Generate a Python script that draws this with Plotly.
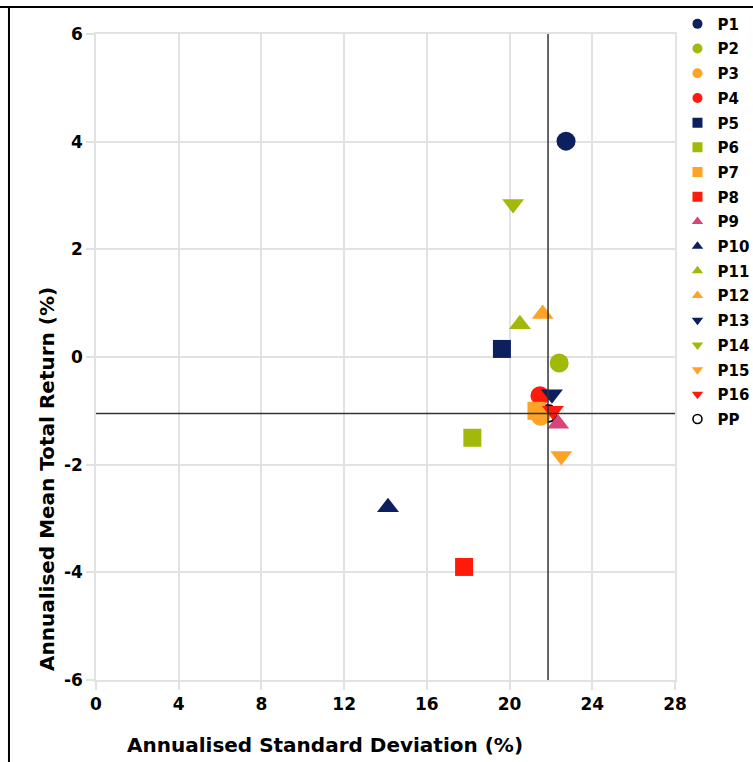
import plotly.graph_objects as go

# ---- data ----
names = ["P1", "P2", "P3", "P4", "P5", "P6", "P7", "P8", "P9", "P10",
         "P11", "P12", "P13", "P14", "P15", "P16", "PP"]
std_dev = [22.73, 22.40, 21.50, 21.47, 19.63, 18.20, 21.30, 17.80, 22.35, 14.12,
           20.50, 21.60, 22.05, 20.17, 22.50, 22.10, 21.86]
mean_return = [4.01, -0.11, -1.10, -0.72, 0.15, -1.50, -1.00, -3.90, -1.24, -2.79,
               0.61, 0.80, -0.69, 2.84, -1.84, -1.00, -1.05]
pp_sd = 21.86
pp_ret = -1.05

x_ticks = [0, 4, 8, 12, 16, 20, 24, 28]
y_ticks = [-6, -4, -2, 0, 2, 4, 6]
x_title = "Annualised Standard Deviation (%)"
y_title = "Annualised Mean Total Return (%)"

# ---- styles ----
NAVY = "#0c1f5e"
OLIVE = "#a3b90a"
ORANGE = "#ffa326"
RED = "#ff1a0c"
PINK = "#d8457b"
colors = [NAVY, OLIVE, ORANGE, RED, NAVY, OLIVE, ORANGE, RED, PINK, NAVY,
          OLIVE, ORANGE, NAVY, OLIVE, ORANGE, RED, "black"]
symbols = ["circle"] * 4 + ["square"] * 4 + ["triangle-up"] * 4 + ["triangle-down"] * 4 + ["circle-open"]
sizes = [19] * 4 + [18] * 4 + [19] * 4 + [19] * 4 + [17]

fig = go.Figure()

# PP first so that it sits underneath the other markers
order = [len(names) - 1] + list(range(len(names) - 1))
for i in order:
    is_pp = names[i] == "PP"
    fig.add_trace(go.Scatter(
        x=[std_dev[i]], y=[mean_return[i]], mode="markers", name=names[i],
        showlegend=False,
        marker=dict(symbol=symbols[i], size=sizes[i], color=colors[i],
                    line=dict(width=2 if is_pp else 0, color=colors[i])),
    ))

# legend entries with small markers
for i in range(len(names)):
    is_pp = names[i] == "PP"
    fig.add_trace(go.Scatter(
        x=[None], y=[None], mode="markers", name=names[i],
        legendgroup=names[i],
        marker=dict(symbol=symbols[i], size=10 if not is_pp else 9, color=colors[i],
                    line=dict(width=1.6 if is_pp else 0, color=colors[i])),
    ))

GRID = "#e2e2e2"
font_family = "DejaVu Sans"

fig.update_layout(
    width=753, height=762,
    margin=dict(l=96, r=78, t=34, b=82, autoexpand=False),
    plot_bgcolor="white", paper_bgcolor="white",
    font=dict(family=font_family, color="black"),
    showlegend=True,
    legend=dict(xref="container", yref="container", x=0.8997, y=0.990,
                xanchor="left", yanchor="top", maxheight=1.0,
                font=dict(size=15, family=font_family, color="black", weight="bold"),
                itemwidth=30, tracegroupgap=2.2, bgcolor="rgba(0,0,0,0)"),
    xaxis=dict(range=[0, 28], tickvals=x_ticks, ticktext=[str(v) for v in x_ticks],
               showgrid=True, gridcolor=GRID, gridwidth=1.5,
               zeroline=False, showline=True, linecolor=GRID, linewidth=1.5, mirror=True,
               ticks="outside", ticklen=8, tickcolor=GRID, tickwidth=1.5,
               tickfont=dict(size=17, weight="bold", family=font_family)),
    yaxis=dict(range=[-6, 6], tickvals=y_ticks, ticktext=[str(v) for v in y_ticks],
               showgrid=True, gridcolor=GRID, gridwidth=1.5,
               zeroline=False, showline=True, linecolor=GRID, linewidth=1.5, mirror=True,
               ticks="outside", ticklen=8, tickcolor=GRID, tickwidth=1.5,
               tickfont=dict(size=17, weight="bold", family=font_family)),
)

# axis titles (offset as in the reference)
fig.add_annotation(text=x_title, xref="paper", yref="paper",
                   x=(325 - 96) / 579, y=-(745 - 680) / 646,
                   xanchor="center", yanchor="middle", showarrow=False,
                   font=dict(size=20, weight="bold", family=font_family, color="black"))
fig.add_annotation(text=y_title, xref="paper", yref="paper",
                   x=-(96 - 47) / 579, y=(680 - 479) / 646, textangle=-90,
                   xanchor="center", yanchor="middle", showarrow=False,
                   font=dict(size=20, weight="bold", family=font_family, color="black"))

# crosshair through the PP point
fig.add_vline(x=pp_sd, line=dict(color="#333333", width=1.5))
fig.add_hline(y=pp_ret, line=dict(color="#333333", width=1.5))

# outer frame (top and left edges visible)
fig.add_shape(type="line", xref="paper", yref="paper", x0=-0.2, x1=1.3, y0=1.0418, y1=1.0418,
              line=dict(color="black", width=2))
fig.add_shape(type="line", xref="paper", yref="paper", x0=-0.1503, x1=-0.1503, y0=-0.2, y1=1.0418,
              line=dict(color="black", width=2))

fig.write_html("out.html")
